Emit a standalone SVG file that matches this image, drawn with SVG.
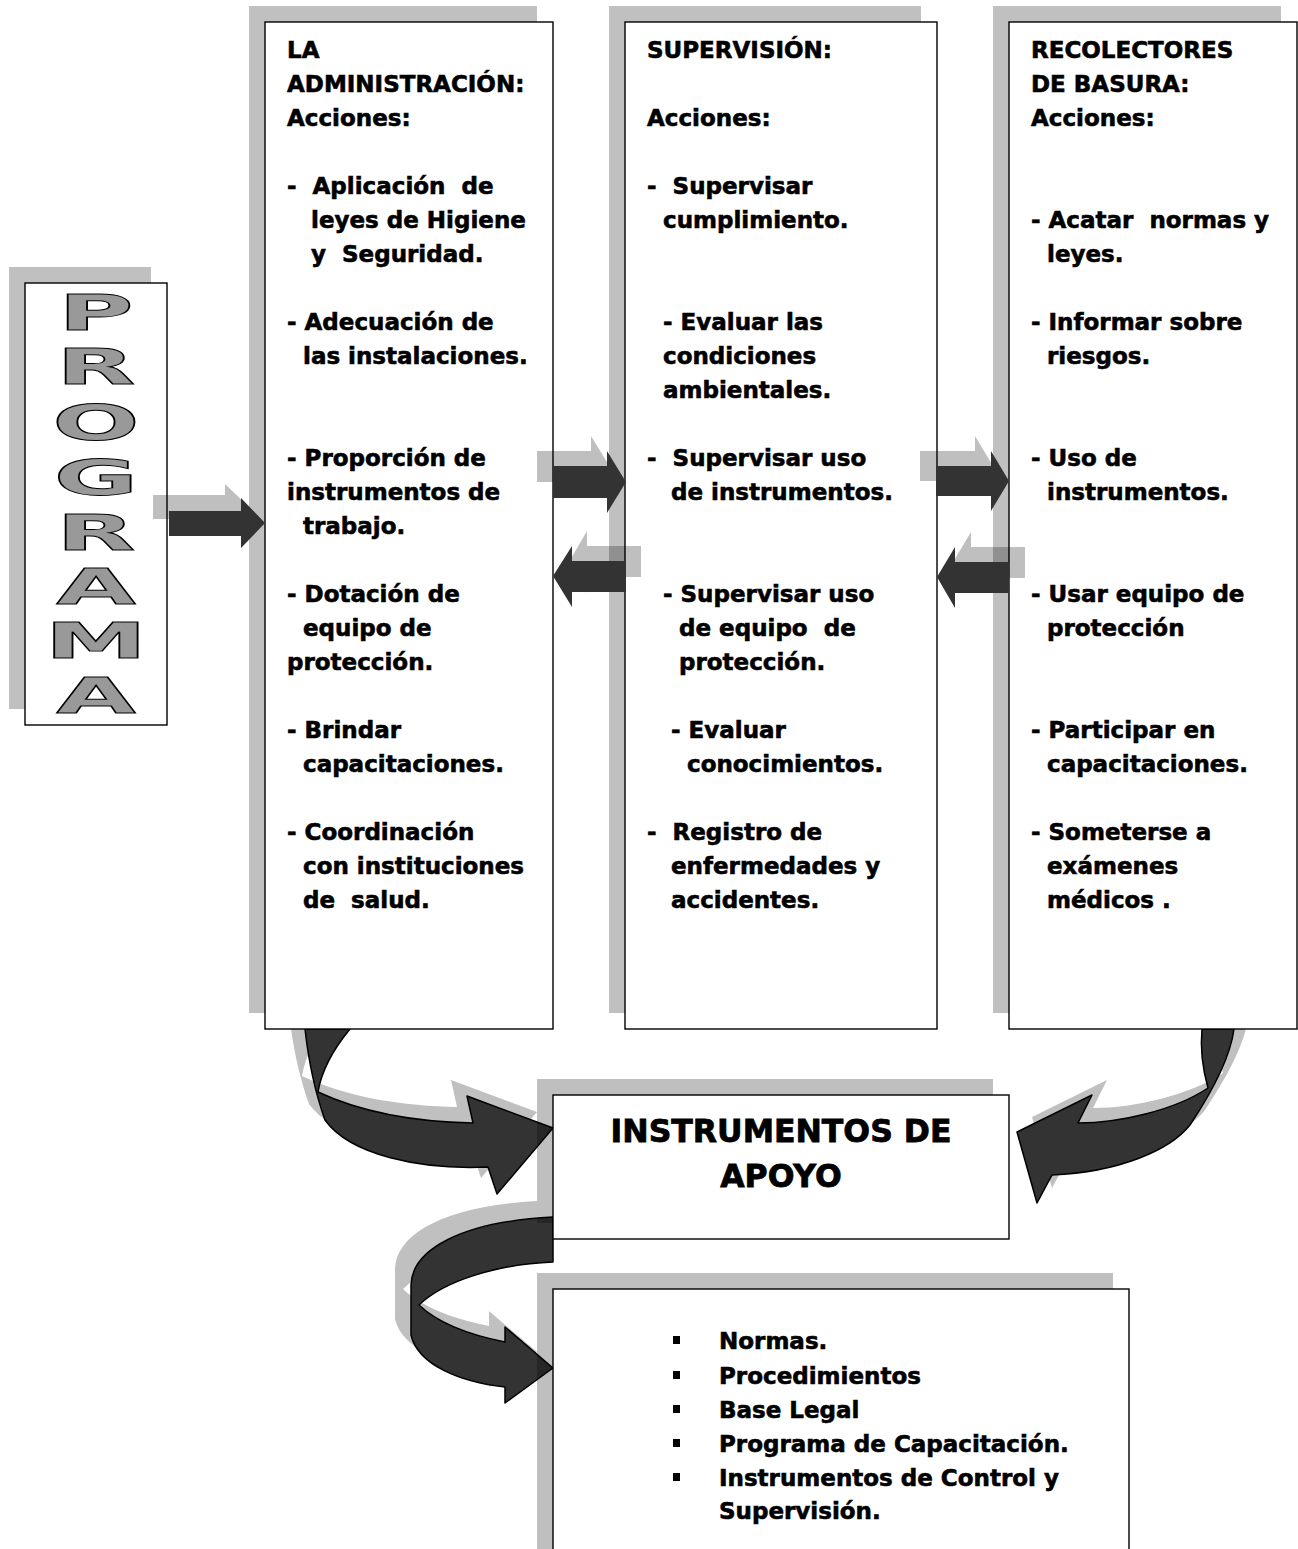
<svg xmlns="http://www.w3.org/2000/svg" width="1298" height="1549" viewBox="0 0 1298 1549">
<style>
.sh{fill:#c0c0c0}
.shT{fill:#000;fill-opacity:0.25}
.box{fill:#fff;stroke:#000;stroke-width:1.4}
.t{font-family:"DejaVu Sans","Liberation Sans",sans-serif;font-weight:bold;font-size:23px;fill:#000;stroke:#000;stroke-width:0.6;white-space:pre}
.ttl{font-family:"DejaVu Sans","Liberation Sans",sans-serif;font-weight:bold;font-size:31.5px;fill:#000;stroke:#000;stroke-width:0.8;text-anchor:middle}
.big{font-family:"DejaVu Sans","Liberation Sans",sans-serif;font-weight:bold;font-size:49px;fill:#999;stroke:#000;stroke-width:0.9;text-anchor:middle}
.dk{fill:#333}
.lt{fill:#000;fill-opacity:0.25}
.ca{fill:#333;stroke:#000;stroke-width:1.5;stroke-linejoin:round}
.cs{fill:#c0c0c0}
</style>
<defs>
<path id="c1" d="M305,1029 L350,1029 C336,1046 322,1068 318,1092 C365,1114 420,1122 473,1123 L467,1096 L553,1128 L497,1194 L488,1167 C420,1170 350,1155 325,1120 C316,1095 309,1065 305,1029 Z"/>
<path id="c2" d="M1202,1029 L1234,1029 C1230,1060 1210,1095 1190,1125 C1170,1150 1120,1172 1052,1175 L1037,1203 L1017,1132 L1092,1095 L1078,1123 C1120,1123 1175,1110 1208,1088 C1203,1070 1200,1050 1202,1029 Z"/>
<path id="c3" d="M553,1217 L553,1262 C500,1264 445,1280 419,1305 C440,1325 475,1336 505,1342 L505,1327 L553,1368 L505,1403 L505,1387 C460,1382 418,1365 411,1335 L411,1285 C412,1250 460,1222 553,1217 Z"/>
</defs>

<g id="connectors-curved">
<use href="#c1" class="cs" transform="translate(-16,-16)"/>
<use href="#c1" class="ca"/>
<use href="#c2" class="cs" transform="translate(15,-15)"/>
<use href="#c2" class="ca"/>
<use href="#c3" class="cs" transform="translate(-16,-16)"/>
<use href="#c3" class="ca"/>
</g>

<g id="programa">
<rect class="sh" x="9" y="267" width="142" height="442"/>
<rect class="box" x="25" y="283" width="142" height="442"/>
<g transform="scale(2.1,1)">
<text class="big" x="45.7" y="330">P</text>
<text class="big" x="45.7" y="384">R</text>
<text class="big" x="45.7" y="440">O</text>
<text class="big" x="45.7" y="495">G</text>
<text class="big" x="45.7" y="550">R</text>
<text class="big" x="45.7" y="604">A</text>
<text class="big" x="45.7" y="658">M</text>
<text class="big" x="45.7" y="713">A</text>
</g>
</g>

<g id="administracion">
<rect class="sh" x="249" y="6" width="288" height="1007"/>
<rect class="box" x="265" y="22" width="288" height="1007"/>
<text class="t" x="287" y="58">LA</text>
<text class="t" x="287" y="92">ADMINISTRACIÓN:</text>
<text class="t" x="287" y="126">Acciones:</text>
<text class="t" x="287" y="194">-  Aplicación  de</text>
<text class="t" x="311" y="228">leyes de Higiene</text>
<text class="t" x="311" y="262">y  Seguridad.</text>
<text class="t" x="287" y="330">- Adecuación de</text>
<text class="t" x="303" y="364">las instalaciones.</text>
<text class="t" x="287" y="466">- Proporción de</text>
<text class="t" x="287" y="500">instrumentos de</text>
<text class="t" x="303" y="534">trabajo.</text>
<text class="t" x="287" y="602">- Dotación de</text>
<text class="t" x="303" y="636">equipo de</text>
<text class="t" x="287" y="670">protección.</text>
<text class="t" x="287" y="738">- Brindar</text>
<text class="t" x="303" y="772">capacitaciones.</text>
<text class="t" x="287" y="840">- Coordinación</text>
<text class="t" x="303" y="874">con instituciones</text>
<text class="t" x="303" y="908">de  salud.</text>
</g>

<g id="supervision">
<rect class="sh" x="609" y="6" width="312" height="1007"/>
<rect class="box" x="625" y="22" width="312" height="1007"/>
<text class="t" x="647" y="58">SUPERVISIÓN:</text>
<text class="t" x="647" y="126">Acciones:</text>
<text class="t" x="647" y="194">-  Supervisar</text>
<text class="t" x="663" y="228">cumplimiento.</text>
<text class="t" x="663" y="330">- Evaluar las</text>
<text class="t" x="663" y="364">condiciones</text>
<text class="t" x="663" y="398">ambientales.</text>
<text class="t" x="647" y="466">-  Supervisar uso</text>
<text class="t" x="671" y="500">de instrumentos.</text>
<text class="t" x="663" y="602">- Supervisar uso</text>
<text class="t" x="679" y="636">de equipo  de</text>
<text class="t" x="679" y="670">protección.</text>
<text class="t" x="671" y="738">- Evaluar</text>
<text class="t" x="687" y="772">conocimientos.</text>
<text class="t" x="647" y="840">-  Registro de</text>
<text class="t" x="671" y="874">enfermedades y</text>
<text class="t" x="671" y="908">accidentes.</text>
</g>

<g id="recolectores">
<rect class="sh" x="993" y="6" width="288" height="1007"/>
<rect class="box" x="1009" y="22" width="288" height="1007"/>
<text class="t" x="1031" y="58">RECOLECTORES</text>
<text class="t" x="1031" y="92">DE BASURA:</text>
<text class="t" x="1031" y="126">Acciones:</text>
<text class="t" x="1031" y="228">- Acatar  normas y</text>
<text class="t" x="1047" y="262">leyes.</text>
<text class="t" x="1031" y="330">- Informar sobre</text>
<text class="t" x="1047" y="364">riesgos.</text>
<text class="t" x="1031" y="466">- Uso de</text>
<text class="t" x="1047" y="500">instrumentos.</text>
<text class="t" x="1031" y="602">- Usar equipo de</text>
<text class="t" x="1047" y="636">protección</text>
<text class="t" x="1031" y="738">- Participar en</text>
<text class="t" x="1047" y="772">capacitaciones.</text>
<text class="t" x="1031" y="840">- Someterse a</text>
<text class="t" x="1047" y="874">exámenes</text>
<text class="t" x="1047" y="908">médicos .</text>
</g>

<g id="connectors-straight">
<path class="lt" d="M153,495 h72 v-11 l24,23 l-24,24 v-12 h-72 z"/>
<path class="dk" d="M169,511 h72 v-13 l24,25 l-24,25 v-12 h-72 z"/>
<path class="lt" d="M537,451 h54 v-15 l19,31 l-19,31 v-16 h-54 z"/>
<path class="dk" d="M553,466 h54 v-15 l19,31 l-19,31 v-15 h-54 z"/>
<path class="lt" d="M641,546 h-54 v-15 l-18,31 l18,31 v-16 h54 z"/>
<path class="dk" d="M626,561 h-54 v-15 l-19,30 l19,31 v-15 h54 z"/>
<path class="lt" d="M920,451 h55 v-15 l18,30 l-18,30 v-15 h-55 z"/>
<path class="dk" d="M936,466 h55 v-15 l18,30 l-18,30 v-15 h-55 z"/>
<path class="lt" d="M1025,547 h-54 v-15 l-18,30 l18,31 v-15 h54 z"/>
<path class="dk" d="M1009,562 h-54 v-15 l-18,30 l18,31 v-15 h54 z"/>
</g>

<g id="instrumentos-apoyo">
<rect class="shT" x="537" y="1079" width="456" height="144"/>
<rect class="box" x="553" y="1095" width="456" height="144"/>
<text class="ttl" x="781" y="1142">INSTRUMENTOS DE</text>
<text class="ttl" x="781" y="1187">APOYO</text>
</g>

<g id="lista-instrumentos">
<rect class="shT" x="537" y="1273" width="576" height="290"/>
<rect class="box" x="553" y="1289" width="576" height="290"/>
<rect x="673" y="1336" width="7" height="8"/>
<rect x="673" y="1371" width="7" height="8"/>
<rect x="673" y="1405" width="7" height="8"/>
<rect x="673" y="1439" width="7" height="8"/>
<rect x="673" y="1473" width="7" height="8"/>
<text class="t" x="719" y="1349">Normas.</text>
<text class="t" x="719" y="1384">Procedimientos</text>
<text class="t" x="719" y="1418">Base Legal</text>
<text class="t" x="719" y="1452">Programa de Capacitación.</text>
<text class="t" x="719" y="1486">Instrumentos de Control y</text>
<text class="t" x="719" y="1519">Supervisión.</text>
</g>
</svg>
